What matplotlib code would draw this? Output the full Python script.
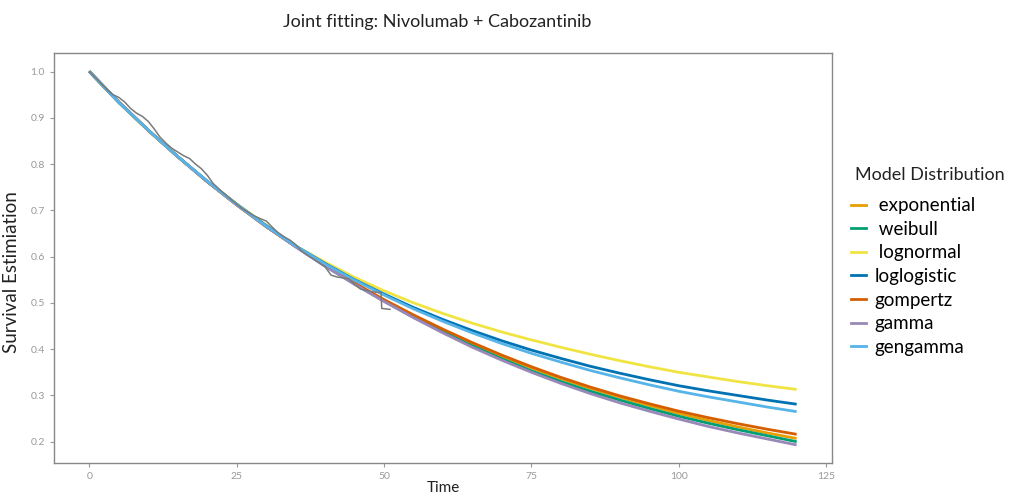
import matplotlib
matplotlib.use("Agg")
import matplotlib.pyplot as plt
from matplotlib.lines import Line2D

plt.rcParams["font.family"] = ["Lato", "DejaVu Sans"]

# fitted survival curves, read every 5 months
TIME = [0, 5, 10, 15, 20, 25, 30, 35, 40, 45, 50, 55, 60, 65, 70, 75, 80,
        85, 90, 95, 100, 105, 110, 115, 120]
MODELS = ["exponential", "weibull", "lognormal", "loglogistic",
          "gompertz", "gamma", "gengamma"]
LABELS = [" exponential", " weibull", " lognormal", "loglogistic",
          "gompertz", "gamma", "gengamma"]
S_EXPONENTIAL = [1.0, 0.934, 0.873, 0.816, 0.762, 0.712, 0.665, 0.622, 0.581,
                 0.542, 0.505, 0.471, 0.440, 0.411, 0.384, 0.359, 0.336,
                 0.315, 0.296, 0.278, 0.261, 0.246, 0.232, 0.219, 0.207]
S_WEIBULL = [1.0, 0.934, 0.873, 0.816, 0.762, 0.712, 0.665, 0.622, 0.580,
             0.541, 0.504, 0.469, 0.437, 0.407, 0.379, 0.353, 0.330, 0.309,
             0.290, 0.272, 0.255, 0.240, 0.226, 0.213, 0.200]
S_LOGNORMAL = [1.0, 0.933, 0.872, 0.816, 0.763, 0.714, 0.668, 0.623, 0.588,
               0.555, 0.526, 0.500, 0.477, 0.456, 0.437, 0.420, 0.404, 0.389,
               0.375, 0.362, 0.350, 0.340, 0.330, 0.321, 0.313]
S_LOGLOGISTIC = [1.0, 0.933, 0.873, 0.816, 0.763, 0.713, 0.667, 0.623, 0.585,
                 0.550, 0.519, 0.490, 0.464, 0.440, 0.418, 0.398, 0.380,
                 0.363, 0.348, 0.334, 0.321, 0.310, 0.300, 0.290, 0.281]
S_GOMPERTZ = [1.0, 0.934, 0.873, 0.816, 0.762, 0.712, 0.665, 0.622, 0.581,
              0.543, 0.507, 0.474, 0.443, 0.414, 0.387, 0.362, 0.339, 0.318,
              0.299, 0.282, 0.266, 0.252, 0.239, 0.227, 0.216]
S_GAMMA = [1.0, 0.934, 0.873, 0.816, 0.762, 0.712, 0.665, 0.621, 0.579,
           0.540, 0.503, 0.468, 0.435, 0.404, 0.376, 0.350, 0.326, 0.304,
           0.284, 0.266, 0.249, 0.233, 0.219, 0.206, 0.193]
S_GENGAMMA = [1.0, 0.933, 0.873, 0.816, 0.763, 0.713, 0.666, 0.623, 0.584,
              0.549, 0.517, 0.487, 0.460, 0.435, 0.412, 0.391, 0.372, 0.354,
              0.338, 0.323, 0.309, 0.297, 0.286, 0.275, 0.265]
COLORS = ["#E69F00", "#009E73", "#F0E442", "#0072B2",
          "#D55E00", "#9A88B8", "#56B4E9"]

# Kaplan-Meier estimate
KM_T = [0, 1, 2, 3, 4, 5, 6, 7, 8, 9, 10, 11, 12, 13, 14, 15, 16, 17, 18,
        19, 20, 21, 22, 24, 26, 28, 29, 30, 31, 32, 33, 34, 35, 36, 37, 38,
        40, 41, 42, 44, 45, 46, 48, 49.5, 49.6, 51]
KM_S = [1.0, 0.987, 0.974, 0.961, 0.950, 0.944, 0.934, 0.920, 0.910, 0.903,
        0.892, 0.876, 0.858, 0.845, 0.834, 0.826, 0.818, 0.812, 0.800, 0.790,
        0.776, 0.758, 0.746, 0.724, 0.703, 0.688, 0.682, 0.677, 0.664, 0.652,
        0.643, 0.636, 0.626, 0.612, 0.603, 0.595, 0.578, 0.560, 0.556, 0.552,
        0.540, 0.530, 0.524, 0.522, 0.488, 0.486]

X_TICKS = [0, 25, 50, 75, 100, 125]
Y_TICKS = [0.2, 0.3, 0.4, 0.5, 0.6, 0.7, 0.8, 0.9, 1.0]

W, H = 1010, 497


def main():
    fig = plt.figure(figsize=(W / 100, H / 100), dpi=100)
    ax = fig.add_axes([54 / W, 1 - 463 / H, 778 / W, 410 / H])

    curves = [S_EXPONENTIAL, S_WEIBULL, S_LOGNORMAL, S_LOGLOGISTIC,
              S_GOMPERTZ, S_GAMMA, S_GENGAMMA]
    for name, s, c in zip(MODELS, curves, COLORS):
        ax.plot(TIME, s, color=c, lw=2.0, solid_capstyle="butt", label=name)
    ax.plot(KM_T, KM_S, color="#7a7a7a", lw=1.1)

    ax.set_xlim(-6, 126)
    ax.set_ylim(0.154, 1.040)
    ax.set_xticks(X_TICKS)
    ax.set_yticks(Y_TICKS)
    ax.set_yticklabels([f"{v:.1f}" for v in Y_TICKS])
    ax.tick_params(colors="#999999", labelsize=7.5, length=3, width=0.8,
                   labelcolor="#999999")
    for sp in ax.spines.values():
        sp.set_color("#888888")
        sp.set_linewidth(1.0)

    ax.set_xlabel("Time", fontsize=11, color="#222222")
    ax.xaxis.set_label_coords(0.5, -(488 - 463) / 410)
    ax.xaxis.label.set_va("center")
    ax.set_ylabel("Survival Estimiation", fontsize=13.5, color="#222222")
    ax.yaxis.set_label_coords((20 - 54) / 778, (463 - 272) / 410)
    fig.text(437 / W, 1 - 22 / H, "Joint fitting: Nivolumab + Cabozantinib",
             fontsize=13, color="#222222", ha="center", va="center")

    fig.text(855 / W, 1 - 175 / H, "Model Distribution", fontsize=13,
             color="#222222", ha="left", va="center")
    handles = [Line2D([], [], color=c, lw=2.0) for c in COLORS]
    ax.legend(handles, LABELS, loc="upper left",
              bbox_to_anchor=(0.835, 0.618), bbox_transform=fig.transFigure,
              frameon=False, fontsize=13.5, handlelength=0.8,
              handletextpad=0.45, labelspacing=0.35, borderaxespad=0)

    fig.savefig("out.png", dpi=100)


if __name__ == "__main__":
    main()
